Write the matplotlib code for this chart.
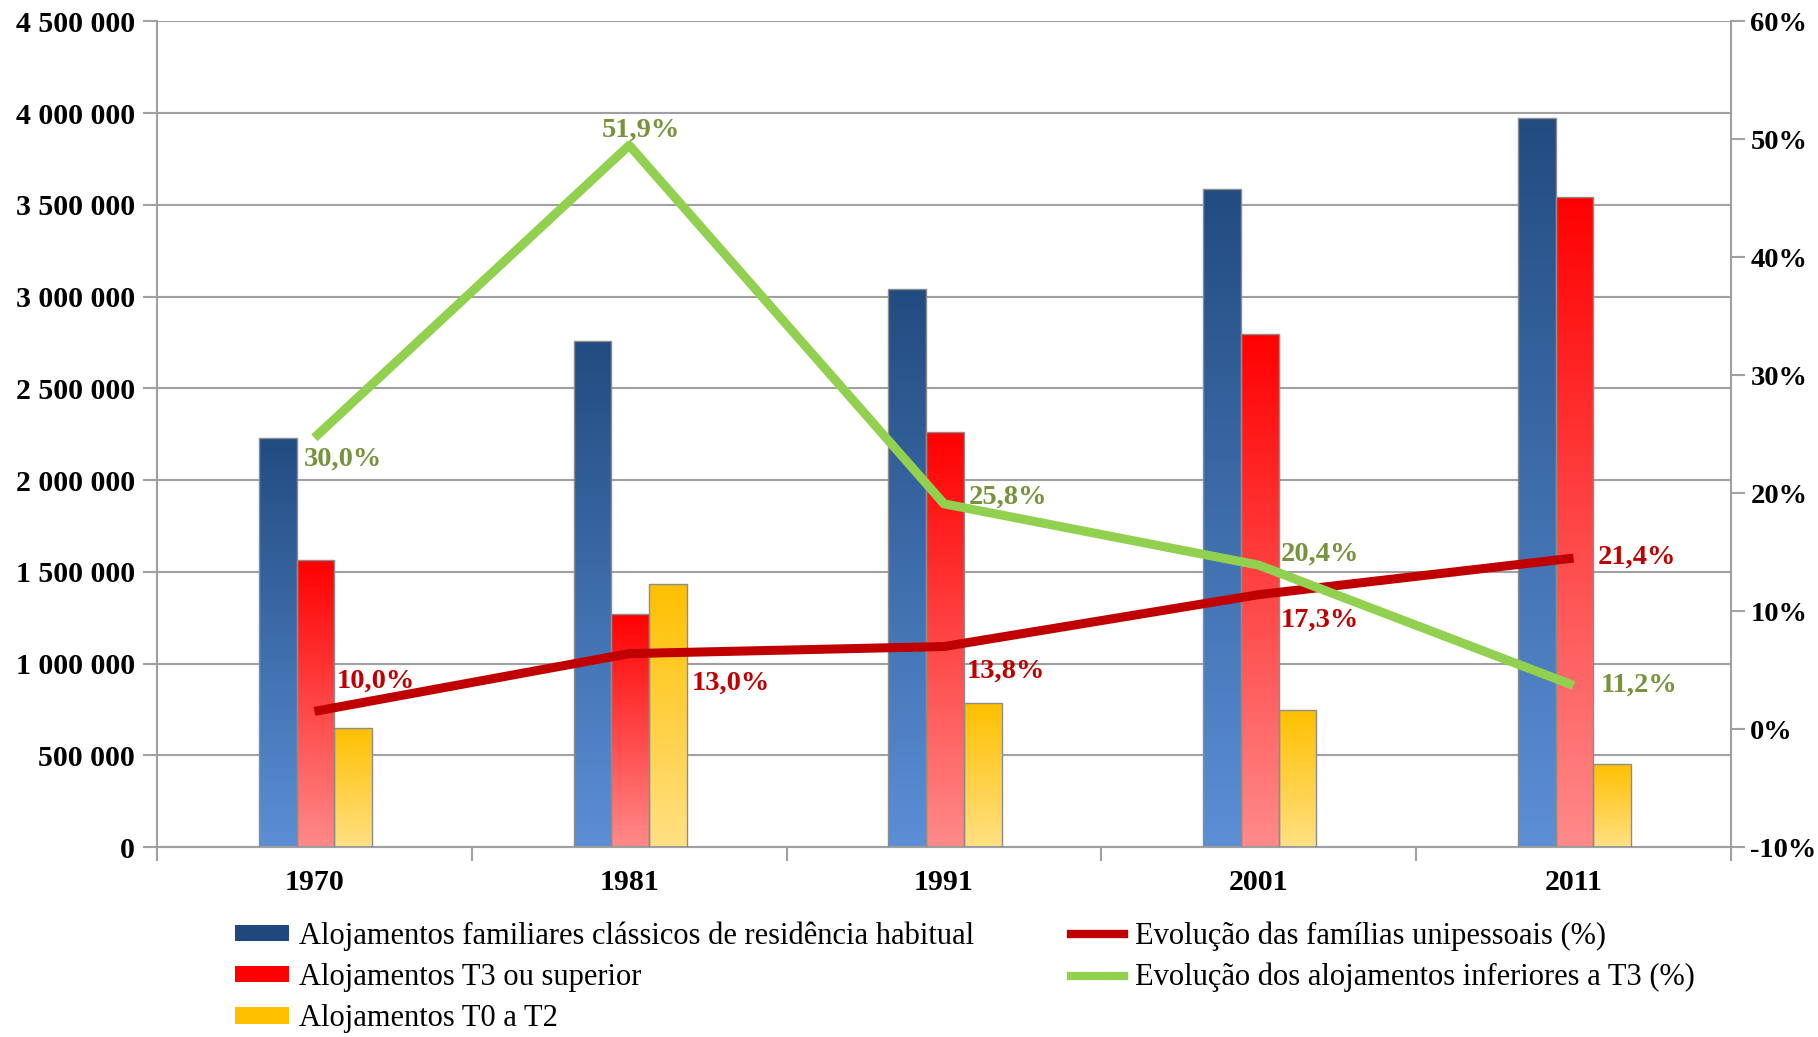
import numpy as np
import matplotlib
matplotlib.use("Agg")
import matplotlib.pyplot as plt
from matplotlib.colors import LinearSegmentedColormap
from matplotlib.patches import Patch
from matplotlib.lines import Line2D
from matplotlib.ticker import FuncFormatter, MultipleLocator

# data
years = ["1970", "1981", "1991", "2001", "2011"]
alojamentos_total = [2232000, 2757000, 3042000, 3586000, 3972000]
alojamentos_t3_mais = [1562000, 1271000, 2264000, 2795000, 3542000]
alojamentos_t0_t2 = [651000, 1436000, 784000, 746000, 455000]

# line positions on the right axis (as drawn) and their printed labels
familias_unipessoais = [1.5, 6.4, 7.0, 11.4, 14.5]
familias_labels = ["10,0%", "13,0%", "13,8%", "17,3%", "21,4%"]
inferiores_t3 = [24.7, 49.5, 19.1, 13.9, 3.7]
inferiores_labels = ["30,0%", "51,9%", "25,8%", "20,4%", "11,2%"]

serif = "Liberation Serif"
grid_col = "#a0a0a0"

fig = plt.figure(figsize=(18.18, 10.37), dpi=100)
ax = fig.add_axes([0.0864, 0.1832, 0.9521 - 0.0864, 0.9793 - 0.1832])

x = np.arange(len(years))
w = 0.12

series = [
    (alojamentos_total, -0.117, ["#5b8fd6", "#224b80"]),
    (alojamentos_t3_mais, 0.003, ["#ff8a8a", "#ff0000"]),
    (alojamentos_t0_t2, 0.123, ["#ffe083", "#ffc000"]),
]

grad = np.linspace(0, 1, 256).reshape(-1, 1)
for vals, off, cols in series:
    cmap = LinearSegmentedColormap.from_list("g", cols)
    bars = ax.bar(x + off, vals, w, facecolor="none", edgecolor="#8c8c8c",
                  linewidth=1.0, zorder=3)
    for b in bars:
        x0 = b.get_x()
        im = ax.imshow(grad, extent=[x0, x0 + b.get_width(), 0, b.get_height()],
                       origin="lower", cmap=cmap, aspect="auto", zorder=2)
        im.set_clip_path(b)

ax.set_xlim(-0.5, 4.5)
ax.set_ylim(0, 4500000)
ax.set_aspect("auto")
ax.yaxis.set_major_locator(MultipleLocator(500000))
ax.yaxis.set_major_formatter(FuncFormatter(lambda v, p: f"{int(v):,}".replace(",", " ")))
ax.grid(axis="y", color=grid_col, linewidth=1.5, zorder=0)
ax.set_axisbelow(True)

ax.set_xticks(x)
ax.set_xticklabels(years)
ax.set_xticks(np.arange(-0.5, 5.0, 1.0), minor=True)
ax.tick_params(axis="x", which="major", length=0, pad=16)
ax.tick_params(axis="x", which="minor", length=10, width=1.5, color=grid_col, direction="out")
ax.tick_params(axis="y", length=10, width=1.5, color=grid_col, direction="out", pad=6)

for lab in ax.get_xticklabels() + ax.get_yticklabels():
    lab.set_fontfamily(serif)
    lab.set_fontweight("bold")
    lab.set_fontsize(21.5)

for s in ["top", "right"]:
    ax.spines[s].set_visible(False)
for s in ["left", "bottom"]:
    ax.spines[s].set_color(grid_col)
    ax.spines[s].set_linewidth(1.5)

ax2 = ax.twinx()
ax2.set_ylim(-10, 60)
ax2.yaxis.set_major_locator(MultipleLocator(10))
ax2.yaxis.set_major_formatter(FuncFormatter(lambda v, p: f"{int(v)}%"))
ax2.tick_params(axis="y", length=10, width=1.5, color=grid_col, direction="out", pad=4)
for lab in ax2.get_yticklabels():
    lab.set_fontfamily(serif)
    lab.set_fontweight("bold")
    lab.set_fontsize(20.5)
for s in ["top", "left", "bottom"]:
    ax2.spines[s].set_visible(False)
ax2.spines["right"].set_color(grid_col)
ax2.spines["right"].set_linewidth(1.5)

red_line = "#c00000"
green_line = "#92d050"
ax2.plot(x, familias_unipessoais, color=red_line, linewidth=6.5, solid_capstyle="butt", zorder=4)
ax2.plot(x, inferiores_t3, color=green_line, linewidth=6.5, solid_capstyle="butt", zorder=4)

# label offsets in pixels (dx, dy, ha)
green_off = [(-11, -21, "left"), (12, 15, "center"), (25, 7, "left"), (22, 11, "left"), (27, 0, "left")]
red_off = [(22, 30, "left"), (63, -30, "left"), (23, -25, "left"), (22, -26, "left"), (24, 1, "left")]

for i in range(len(years)):
    dx, dy, ha = green_off[i]
    ax2.annotate(inferiores_labels[i], (x[i], inferiores_t3[i]), xytext=(dx, dy),
                 textcoords="offset pixels", ha=ha, va="center", color="#77933c",
                 fontfamily=serif, fontweight="bold", fontsize=20.5, zorder=5)
    dx, dy, ha = red_off[i]
    ax2.annotate(familias_labels[i], (x[i], familias_unipessoais[i]), xytext=(dx, dy),
                 textcoords="offset pixels", ha=ha, va="center", color=red_line,
                 fontfamily=serif, fontweight="bold", fontsize=20.5, zorder=5)

handles = [
    Patch(facecolor="#1f497d", label="Alojamentos familiares clássicos de residência habitual"),
    Patch(facecolor="#ff0000", label="Alojamentos T3 ou superior"),
    Patch(facecolor="#ffc000", label="Alojamentos T0 a T2"),
    Line2D([], [], color=red_line, linewidth=6, label="Evolução das famílias unipessoais (%)"),
    Line2D([], [], color=green_line, linewidth=6, label="Evolução dos alojamentos inferiores a T3 (%)"),
]
fig.legend(handles=handles, ncol=2, loc="upper left",
           bbox_to_anchor=(220 / 1818, 1 - 906 / 1037), frameon=False,
           prop={"family": serif, "size": 22}, handlelength=1.75, handleheight=0.45,
           handletextpad=0.35, columnspacing=3.15, labelspacing=0.4, borderpad=0)

fig.savefig("out.png", dpi=100)
